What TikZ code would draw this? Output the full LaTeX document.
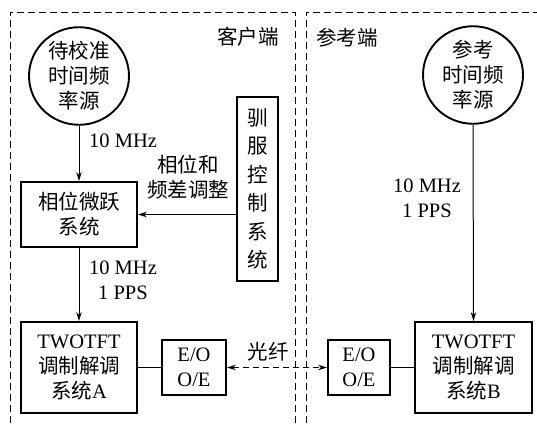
\documentclass[tikz,border=0pt]{standalone}
\usepackage{fontspec}
\setmainfont{Liberation Serif}
\newfontfamily\cjk{Noto Sans CJK SC}
\newcommand\zhtxt[1]{{\cjk\fontsize{20.5}{25}\selectfont #1}}
\usetikzlibrary{shapes.geometric,arrows.meta}
\begin{document}
\begin{tikzpicture}[x=1pt,y=-1pt,
  every node/.style={font=\fontsize{20.5}{25}\selectfont, inner sep=0pt},
  blk/.style={draw, line width=1.9pt, rectangle, align=center},
  src/.style={draw, line width=1.9pt, ellipse, minimum width=100pt, minimum height=92pt, align=center},
  lbl/.style={align=center},
  arr/.style={line width=1pt, -{Stealth[length=9pt,width=5.5pt]}},
  ln/.style={line width=1pt},
  region/.style={line width=1pt, dash pattern=on 7pt off 4pt}]
\useasboundingbox (0,0) rectangle (537,423);
% regions
\draw[region] (10,423) -- (10,12) -- (295,12) -- (295,423);
\draw[region] (306,423) -- (306,12) -- (537,12);
\node[lbl] (client) at (248,37) {\zhtxt{客户端}};
\node[lbl] (ref) at (347,38) {\zhtxt{参考端}};
% nodes
\node[src] (src1) at (79,76) {\zhtxt{待校准}\\\zhtxt{时间频}\\\zhtxt{率源}};
\node[src] (src2) at (473,75) {\zhtxt{参考}\\\zhtxt{时间频}\\\zhtxt{率源}};
\node[blk, minimum width=116pt, minimum height=65pt] (phase) at (79,214.5) {\zhtxt{相位微跃}\\\zhtxt{系统}};
\node[blk, minimum width=41pt, minimum height=184pt, font=\fontsize{20.5}{28.5}\selectfont] (tame) at (257.5,189) {\zhtxt{驯}\\\zhtxt{服}\\\zhtxt{控}\\\zhtxt{制}\\\zhtxt{系}\\\zhtxt{统}};
\node[blk, minimum width=116pt, minimum height=91pt] (twA) at (79,367.5) {TWOTFT\\\zhtxt{调制解调}\\\zhtxt{系统}A};
\node[blk, minimum width=64pt, minimum height=55pt] (eoA) at (194,367.5) {E/O\\O/E};
\node[blk, minimum width=62pt, minimum height=55pt] (eoB) at (359,367.5) {E/O\\O/E};
\node[blk, minimum width=117pt, minimum height=91pt] (twB) at (473.5,367.5) {TWOTFT\\\zhtxt{调制解调}\\\zhtxt{系统}B};
% connectors
\draw[arr] (src1.south) -- (phase.north);
\draw[arr] (tame.west |- phase.east) -- (phase.east);
\draw[arr] (phase.south) -- (twA.north);
\draw[ln] (twA.east) -- (eoA.west);
\draw[ln, dash pattern=on 6pt off 4pt, {Stealth[length=9pt,width=5.5pt]}-{Stealth[length=9pt,width=5.5pt]}] (eoA.east) -- (eoB.west);
\draw[ln] (eoB.east) -- (twB.west);
\draw[arr] (src2.south) -- (twB.north);
% labels
\node[lbl, anchor=west] (l1) at (89,141) {10 MHz};
\node[lbl] (l2) at (188,177) {\zhtxt{相位和}\\\zhtxt{频差调整}};
\node[lbl] (l3) at (123,280) {10 MHz\\1 PPS};
\node[lbl] (l4) at (427,198) {10 MHz\\1 PPS};
\node[lbl] (l5) at (268,352) {\zhtxt{光纤}};
\end{tikzpicture}
\end{document}
